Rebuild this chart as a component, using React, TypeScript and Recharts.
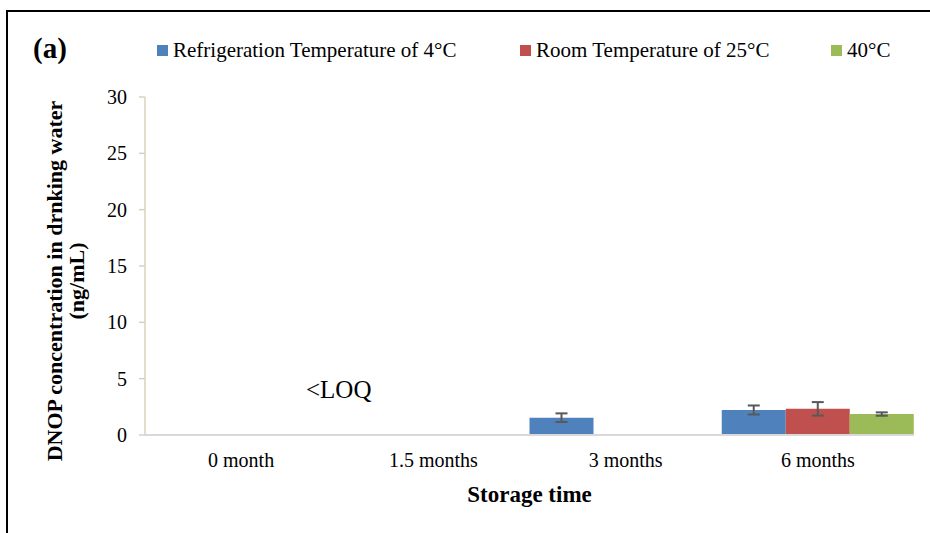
import { Bar, BarChart, ErrorBar, XAxis, YAxis } from 'recharts';

const SERIF = 'Liberation Serif, Times New Roman, Times, DejaVu Serif, serif';
const BLUE = '#4F81BD';
const RED = '#C0504D';
const GREEN = '#9BBB59';
const ERR = '#595959';

const categories = ['0 month', '1.5 months', '3 months', '6 months'];
const fridge = [null, null, 1.54, 2.22];
const fridgeErr = [null, null, 0.38, 0.4];
const room = [null, null, null, 2.32];
const roomErr = [null, null, null, 0.6];
const hot = [null, null, null, 1.86];
const hotErr = [null, null, null, 0.15];
const yTicks = [0, 5, 10, 15, 20, 25, 30];

const seriesNames = ['Refrigeration Temperature of 4°C', 'Room Temperature of 25°C', '40°C'];
const seriesColors = [BLUE, RED, GREEN];

const data = categories.map((c, i) => ({
  cat: c,
  fridge: fridge[i],
  fridgeErr: fridgeErr[i],
  room: room[i],
  roomErr: roomErr[i],
  hot: hot[i],
  hotErr: hotErr[i],
}));

// plot box
const TOP = 97;
const BOTTOM = 435;

function LegendRow() {
  const lefts = [157, 520, 831];
  return (
    <div style={{ position: 'absolute', left: 0, top: 38, width: 930, height: 28 }}>
      {seriesNames.map((n, i) => (
        <div
          key={n}
          style={{ position: 'absolute', left: lefts[i], top: 0, display: 'flex', alignItems: 'center', whiteSpace: 'nowrap' }}
        >
          <span style={{ width: 11, height: 11, background: seriesColors[i], marginRight: 5 }} />
          <span style={{ fontFamily: SERIF, fontSize: 21, color: '#000' }}>{n}</span>
        </div>
      ))}
    </div>
  );
}

function YLabel() {
  const cy = (TOP + BOTTOM) / 2 + 15;
  return (
    <g>
      <text
        x={62}
        y={cy}
        transform={`rotate(-90, 62, ${cy})`}
        textAnchor="middle"
        fontFamily={SERIF}
        fontWeight="bold"
        fontSize={22}
        fill="#000"
      >
        DNOP concentration in drnking water
      </text>
      <text
        x={84}
        y={cy}
        transform={`rotate(-90, 84, ${cy})`}
        textAnchor="middle"
        fontFamily={SERIF}
        fontWeight="bold"
        fontSize={22}
        fill="#000"
      >
        (ng/mL)
      </text>
    </g>
  );
}

export default function App() {
  return (
    <div style={{ position: 'absolute', left: 0, top: 0, width: 930, height: 533, background: '#fff' }}>
      <div
        style={{
          position: 'absolute',
          left: 6,
          top: 10,
          width: 930,
          height: 530,
          borderTop: '2px solid #000',
          borderLeft: '2px solid #000',
        }}
      />
      <div
        style={{
          position: 'absolute',
          left: 33,
          top: 32,
          fontFamily: SERIF,
          fontWeight: 'bold',
          fontSize: 29,
          color: '#000',
        }}
      >
        (a)
      </div>
      <LegendRow />
      <div
        style={{ position: 'absolute', left: 306, top: 376, fontFamily: SERIF, fontSize: 25, color: '#000' }}
      >
        &lt;LOQ
      </div>
      <BarChart
        width={930}
        height={533}
        data={data}
        margin={{ top: TOP, right: 16, bottom: 28, left: 5 }}
        barCategoryGap={0}
        barGap={0}
        style={{ position: 'absolute', left: 0, top: 0 }}
      >
        <XAxis
          dataKey="cat"
          height={70}
          axisLine={{ stroke: '#d9d9d9', strokeWidth: 2 }}
          tickLine={false}
          tickSize={6}
          tickMargin={12}
          tick={{ fontFamily: SERIF, fontSize: 20, fill: '#000' }}
          label={{
            value: 'Storage time',
            position: 'insideBottom',
            offset: 3,
            style: { fontFamily: SERIF, fontWeight: 'bold', fontSize: 23, fill: '#000' },
          }}
        />
        <YAxis
          width={140}
          domain={[0, 30]}
          ticks={yTicks}
          interval={0}
          axisLine={{ stroke: '#d8d2bc', strokeWidth: 1.5 }}
          tickLine={{ stroke: '#d8d2bc', strokeWidth: 1.5 }}
          tickSize={6}
          tickMargin={12}
          tick={{ fontFamily: SERIF, fontSize: 20, fill: '#000' }}
          label={<YLabel />}
        />
        <Bar dataKey="fridge" fill={BLUE} isAnimationActive={false}>
          <ErrorBar dataKey="fridgeErr" width={6} stroke={ERR} strokeWidth={2} />
        </Bar>
        <Bar dataKey="room" fill={RED} isAnimationActive={false}>
          <ErrorBar dataKey="roomErr" width={6} stroke={ERR} strokeWidth={2} />
        </Bar>
        <Bar dataKey="hot" fill={GREEN} isAnimationActive={false}>
          <ErrorBar dataKey="hotErr" width={6} stroke={ERR} strokeWidth={2} />
        </Bar>
      </BarChart>
    </div>
  );
}
